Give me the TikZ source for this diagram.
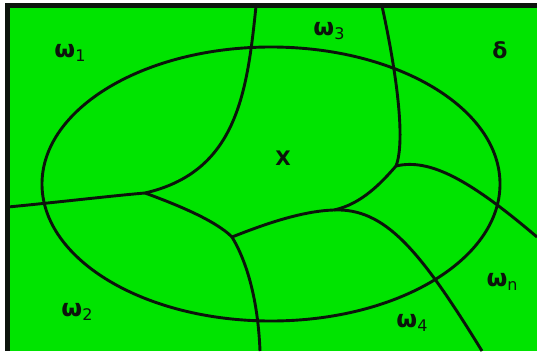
\documentclass[tikz,border=0pt]{standalone}
\usepackage{fontspec}
\setmainfont{DejaVu Sans}
\usepackage{tikz}
\definecolor{regiongreen}{RGB}{0,228,0}
\definecolor{regionline}{RGB}{12,20,12}

\tikzset{
  bound/.style={regionline, line width=2.9pt},
  reglabel/.style={regionline, font=\fontsize{24}{26}\selectfont\bfseries, inner sep=0pt}
}
\newcommand{\omsub}[1]{ω\raisebox{-0.3ex}{\fontsize{16}{17}\selectfont\mdseries #1}}

\begin{document}
\begin{tikzpicture}[x=1pt, y=-1pt]
\useasboundingbox (0,0) rectangle (537,351);
% outer
\fill[white] (0,0) rectangle (537,351);
\fill[regiongreen] (5,3) rectangle (537,351);
\draw[regionline, line width=5pt] (7.5,3) -- (7.5,351);
\draw[regionline, line width=5pt] (5,5.5) -- (537,5.5);

% junctions
\coordinate (j1) at (145,193);
\coordinate (j2) at (232,237);
\coordinate (j3) at (334,210);
\coordinate (j4) at (396,166);
\coordinate (topa) at (256,6);
\coordinate (topb) at (382,6);
\coordinate (lefta) at (8,207);
\coordinate (righta) at (537,237);
\coordinate (bota) at (260,351);
\coordinate (botb) at (482,351);

% ellipse
\draw[bound] (271,184) ellipse [x radius=229pt, y radius=137pt];

% region boundaries
\draw[bound] (topa) .. controls (247,95) and (236,172) .. (j1);
\draw[bound] (lefta) .. controls (60,202) and (110,196) .. (j1);
\draw[bound] (j1) .. controls (175,204) and (215,220) .. (j2);
\draw[bound] (j2) .. controls (247,262) and (258,300) .. (bota);
\draw[bound] (j2) .. controls (260,226) and (300,211) .. (j3);
\draw[bound] (j3) .. controls (385,208) and (420,250) .. (botb);
\draw[bound] (j3) .. controls (362,204) and (382,182) .. (j4);
\draw[bound] (topb) .. controls (396,70) and (406,140) .. (j4);
\draw[bound] (j4) .. controls (430,158) and (470,180) .. (righta);

% labels
\node[reglabel] (w1) at (70,53) {\omsub{1}};
\node[reglabel] (w3) at (329,31) {\omsub{3}};
\node[reglabel, font=\fontsize{22}{24}\selectfont\bfseries] (dl) at (500,50) {δ};
\node[reglabel, font=\fontsize{20}{22}\selectfont\bfseries] (xx) at (283,158) {X};
\node[reglabel] (w2) at (77,312) {\omsub{2}};
\node[reglabel] (w4) at (412,323) {\omsub{4}};
\node[reglabel] (wn) at (502,282) {\omsub{n}};
\end{tikzpicture}
\end{document}
